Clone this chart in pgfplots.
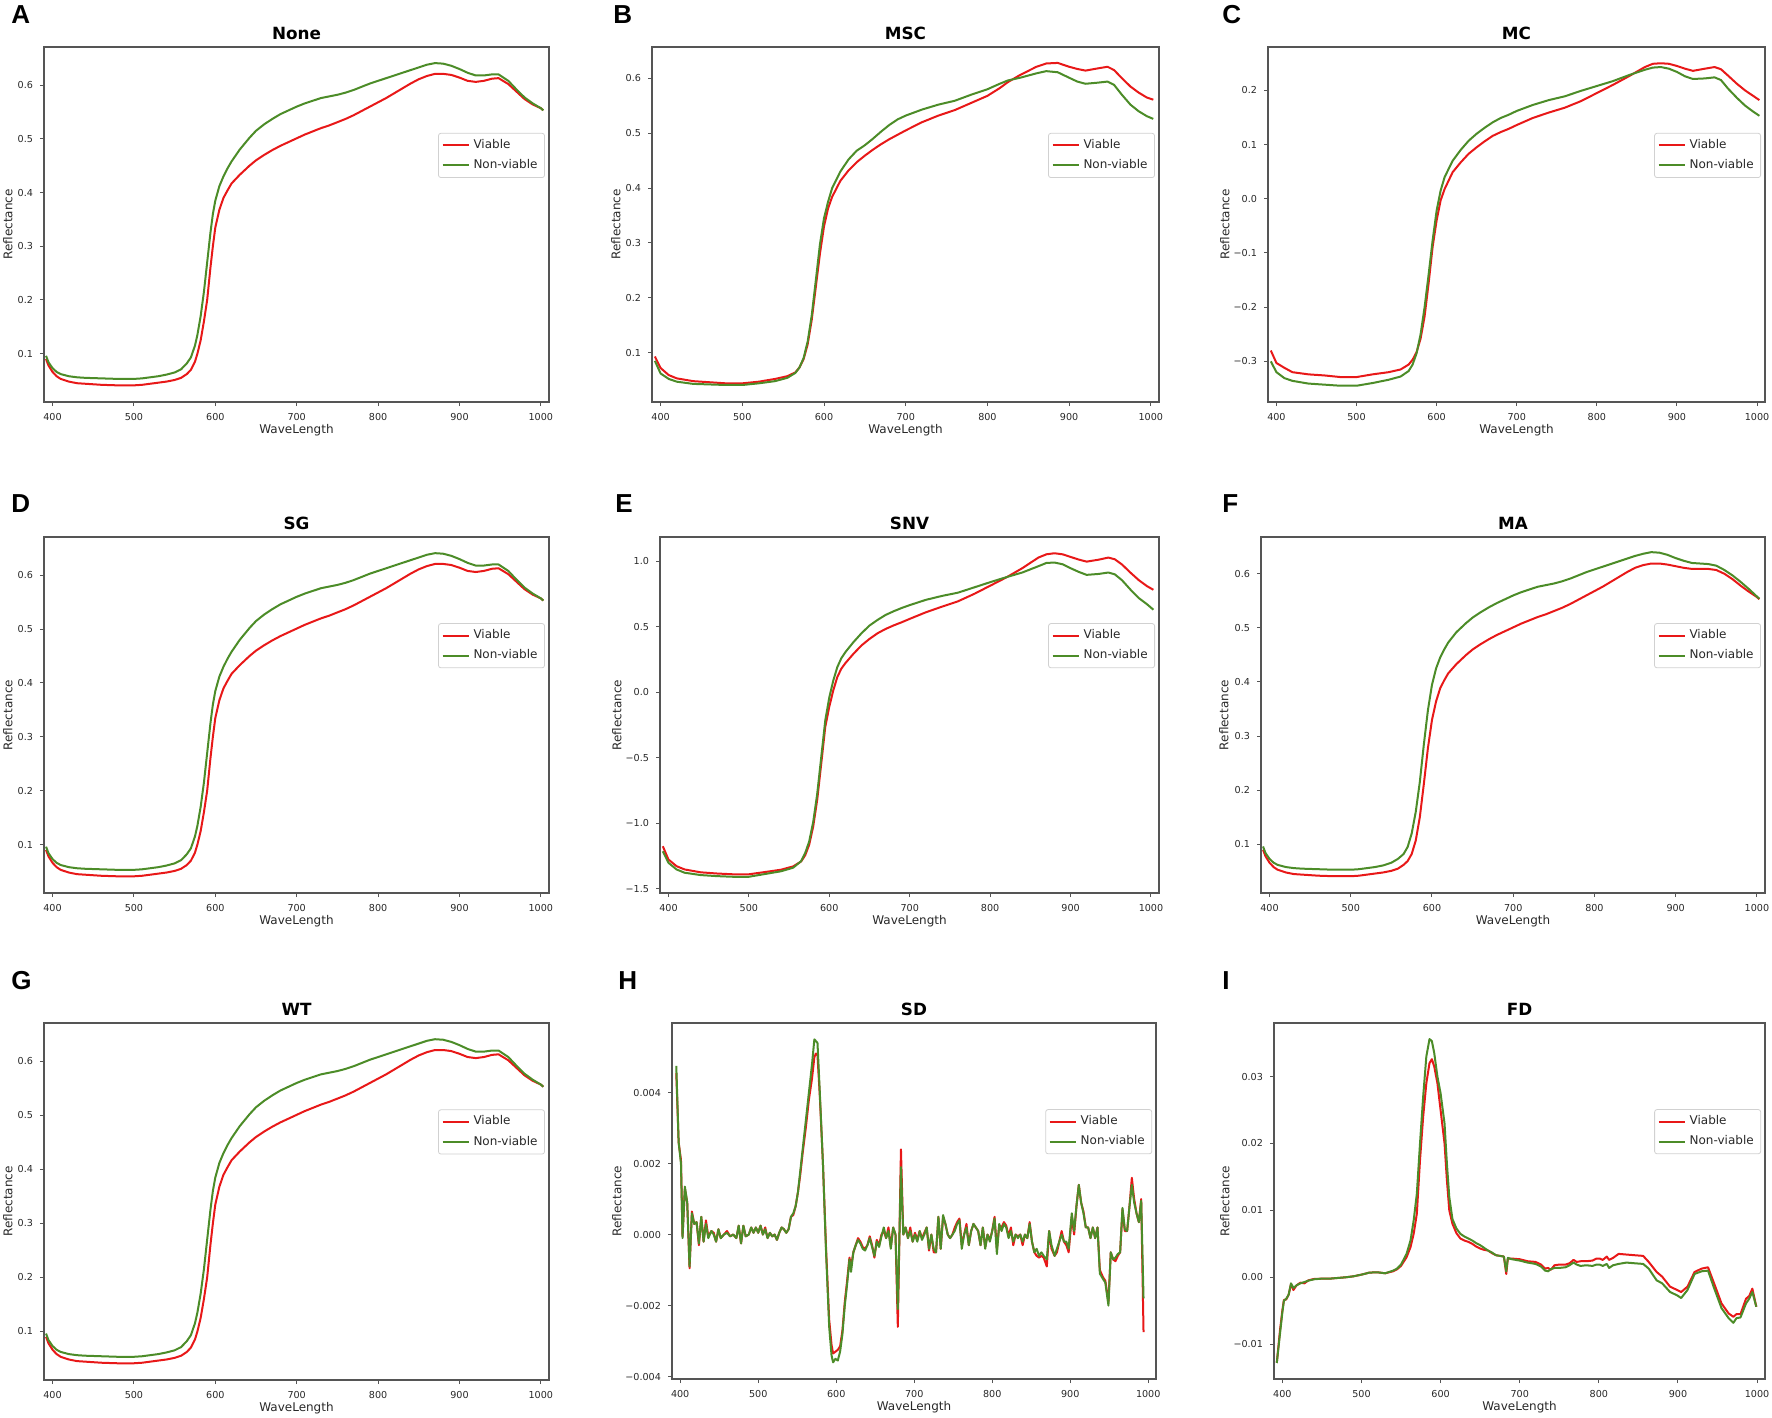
\documentclass[border=0pt]{standalone}
\usepackage{pgfplots}
\usepackage{pgfplotstable}
\pgfplotsset{compat=1.18}
\usepackage{fontspec}
\setmainfont{DejaVu Sans}
\newfontfamily\letterfont{Liberation Sans}
\definecolor{vred}{RGB}{232,24,24}
\definecolor{ngreen}{RGB}{76,140,40}
\definecolor{framecol}{RGB}{85,85,85}
\definecolor{txtcol}{RGB}{40,40,40}

\pgfplotstableread{
x v n
392 0.090 0.096
395 0.078 0.084
400 0.066 0.073
405 0.058 0.066
410 0.053 0.062
420 0.048 0.058
430 0.045 0.056
440 0.044 0.055
460 0.042 0.054
480 0.041 0.053
500 0.041 0.053
510 0.042 0.054
520 0.044 0.056
530 0.046 0.058
540 0.048 0.061
550 0.051 0.065
558 0.055 0.071
565 0.062 0.082
570 0.070 0.093
575 0.085 0.115
578 0.100 0.135
582 0.125 0.170
586 0.160 0.215
590 0.200 0.270
594 0.260 0.325
597 0.300 0.360
600 0.335 0.385
605 0.368 0.412
610 0.390 0.430
615 0.404 0.445
620 0.417 0.458
630 0.433 0.480
642 0.450 0.502
650 0.460 0.515
660 0.470 0.527
670 0.479 0.537
680 0.487 0.546
690 0.494 0.553
700 0.501 0.560
710 0.508 0.566
720 0.514 0.571
730 0.520 0.576
740 0.525 0.579
750 0.531 0.582
760 0.537 0.586
770 0.544 0.591
780 0.552 0.597
790 0.560 0.603
800 0.568 0.608
810 0.576 0.613
820 0.585 0.618
830 0.594 0.623
840 0.603 0.628
850 0.611 0.633
860 0.617 0.638
870 0.621 0.641
880 0.621 0.640
890 0.619 0.636
900 0.614 0.630
910 0.608 0.623
920 0.606 0.618
930 0.608 0.618
940 0.612 0.620
948 0.613 0.620
960 0.602 0.608
970 0.588 0.592
980 0.574 0.577
990 0.564 0.566
1000 0.557 0.557
1003 0.553 0.553
}\tabA

\pgfplotstableread{
x v n
392 0.090 0.096
395 0.078 0.084
400 0.066 0.073
405 0.058 0.066
410 0.053 0.062
420 0.048 0.058
430 0.045 0.056
440 0.044 0.055
460 0.042 0.054
480 0.041 0.053
500 0.041 0.053
510 0.042 0.054
520 0.044 0.056
530 0.046 0.058
540 0.048 0.061
550 0.051 0.066
558 0.055 0.073
565 0.062 0.082
570 0.069 0.095
575 0.082 0.120
580 0.107 0.160
585 0.150 0.215
590 0.212 0.285
595 0.278 0.348
600 0.330 0.395
605 0.364 0.425
610 0.388 0.445
615 0.403 0.460
620 0.416 0.473
630 0.433 0.492
642 0.450 0.509
650 0.460 0.519
660 0.470 0.529
670 0.479 0.538
680 0.487 0.546
690 0.494 0.553
700 0.501 0.560
710 0.508 0.566
720 0.514 0.571
730 0.520 0.576
740 0.525 0.579
750 0.531 0.582
760 0.537 0.586
770 0.544 0.591
780 0.552 0.597
790 0.560 0.603
800 0.568 0.608
810 0.576 0.613
820 0.585 0.618
830 0.594 0.623
840 0.603 0.628
850 0.611 0.633
860 0.616 0.637
870 0.619 0.640
880 0.619 0.639
890 0.617 0.635
900 0.614 0.629
910 0.611 0.624
920 0.609 0.620
930 0.609 0.619
940 0.609 0.618
950 0.607 0.615
960 0.600 0.607
970 0.590 0.597
980 0.578 0.585
990 0.567 0.572
1000 0.557 0.558
1003 0.553 0.554
}\tabF

\pgfplotstableread{
x v n
393 0.093 0.085
400 0.072 0.062
410 0.059 0.052
420 0.053 0.047
440 0.048 0.043
460 0.046 0.042
480 0.044 0.041
500 0.044 0.041
520 0.047 0.044
540 0.052 0.048
555 0.057 0.054
565 0.064 0.063
570 0.073 0.073
575 0.088 0.090
580 0.115 0.120
585 0.160 0.168
590 0.220 0.232
595 0.280 0.297
600 0.330 0.345
605 0.363 0.375
610 0.384 0.400
620 0.413 0.430
630 0.432 0.452
640 0.447 0.468
650 0.459 0.478
660 0.470 0.490
670 0.480 0.503
680 0.489 0.515
690 0.497 0.525
700 0.505 0.532
720 0.520 0.543
740 0.532 0.552
760 0.542 0.559
780 0.555 0.570
800 0.568 0.580
815 0.582 0.590
825 0.593 0.596
840 0.606 0.601
860 0.621 0.609
872 0.627 0.613
886 0.628 0.611
900 0.621 0.601
910 0.617 0.594
920 0.614 0.590
935 0.618 0.592
947 0.621 0.594
955 0.615 0.588
964 0.601 0.571
975 0.585 0.552
985 0.574 0.540
995 0.565 0.531
1003 0.561 0.526
}\tabB

\pgfplotstableread{
x v n
393 -0.280 -0.300
400 -0.303 -0.320
410 -0.312 -0.331
420 -0.320 -0.336
440 -0.324 -0.341
460 -0.326 -0.343
480 -0.329 -0.345
500 -0.329 -0.345
520 -0.324 -0.340
540 -0.320 -0.334
555 -0.315 -0.328
565 -0.306 -0.318
570 -0.297 -0.306
575 -0.283 -0.285
580 -0.258 -0.250
585 -0.217 -0.200
590 -0.156 -0.140
595 -0.089 -0.077
600 -0.040 -0.022
605 -0.003 0.015
610 0.018 0.040
620 0.049 0.070
630 0.067 0.090
640 0.083 0.107
650 0.095 0.120
660 0.106 0.131
670 0.116 0.141
680 0.123 0.149
690 0.129 0.155
700 0.136 0.162
720 0.149 0.173
740 0.159 0.182
760 0.168 0.189
780 0.180 0.199
800 0.195 0.208
820 0.210 0.217
840 0.226 0.228
860 0.243 0.238
870 0.249 0.242
880 0.250 0.243
890 0.249 0.240
900 0.245 0.234
910 0.240 0.226
920 0.236 0.221
935 0.240 0.222
947 0.243 0.224
955 0.239 0.219
964 0.227 0.203
975 0.212 0.186
985 0.200 0.172
995 0.190 0.161
1003 0.182 0.153
}\tabC

\pgfplotstableread{
x v n
393 -1.176 -1.214
400 -1.277 -1.302
410 -1.328 -1.353
420 -1.353 -1.378
440 -1.375 -1.396
460 -1.384 -1.404
480 -1.390 -1.409
500 -1.390 -1.409
520 -1.373 -1.388
540 -1.355 -1.367
555 -1.330 -1.340
565 -1.292 -1.290
570 -1.245 -1.228
575 -1.165 -1.140
580 -1.025 -0.990
585 -0.820 -0.775
590 -0.545 -0.495
595 -0.265 -0.215
600 -0.110 -0.040
605 0.015 0.090
610 0.116 0.192
615 0.180 0.260
620 0.222 0.306
630 0.293 0.382
640 0.357 0.450
650 0.407 0.509
660 0.450 0.552
670 0.483 0.590
680 0.510 0.618
690 0.534 0.643
700 0.560 0.665
720 0.610 0.705
740 0.653 0.735
760 0.694 0.760
780 0.750 0.800
800 0.813 0.840
820 0.876 0.878
840 0.947 0.914
860 1.028 0.962
870 1.053 0.987
880 1.061 0.990
890 1.053 0.977
900 1.033 0.947
910 1.013 0.919
920 0.997 0.896
935 1.012 0.903
947 1.028 0.914
955 1.015 0.900
964 0.975 0.855
975 0.910 0.780
985 0.855 0.718
995 0.810 0.672
1003 0.782 0.630
}\tabE

\pgfplotstableread{
x v n
395 0.00455 0.00475
398 0.00260 0.00260
401 0.00210 0.00200
403 -0.00005 -0.00010
406 0.00130 0.00135
409 0.00090 0.00090
412 -0.00095 -0.00090
415 0.00065 0.00060
418 0.00030 0.00030
421 0.00035 0.00035
424 -0.00030 -0.00025
427 0.00050 0.00050
430 -0.00020 -0.00020
433 0.00040 0.00030
436 -0.00005 -0.00010
440 0.00010 0.00010
443 0.00005 0.00000
446 -0.00020 -0.00020
449 0.00015 0.00015
452 -0.00010 -0.00010
456 0.00000 0.00000
460 0.00010 0.00005
464 -0.00005 -0.00005
468 0.00000 0.00000
472 -0.00010 -0.00010
475 0.00025 0.00025
478 -0.00025 -0.00025
481 0.00025 0.00025
484 -0.00005 -0.00005
488 0.00000 0.00000
491 0.00020 0.00020
494 0.00005 0.00005
497 0.00020 0.00020
500 0.00005 0.00005
503 0.00025 0.00025
506 0.00000 0.00000
509 0.00020 0.00015
512 -0.00010 -0.00010
515 0.00005 0.00005
518 -0.00005 -0.00005
521 0.00000 0.00000
524 -0.00015 -0.00015
527 0.00005 0.00005
530 0.00020 0.00020
533 0.00015 0.00015
536 0.00005 0.00005
539 0.00015 0.00015
542 0.00050 0.00050
545 0.00055 0.00060
548 0.00080 0.00080
551 0.00120 0.00120
554 0.00170 0.00180
557 0.00230 0.00240
561 0.00300 0.00320
565 0.00380 0.00400
569 0.00440 0.00480
572 0.00500 0.00550
574 0.00510 0.00545
576 0.00505 0.00540
579 0.00390 0.00400
583 0.00200 0.00200
587 -0.00040 -0.00050
591 -0.00240 -0.00260
594 -0.00310 -0.00340
596 -0.00335 -0.00360
599 -0.00330 -0.00350
602 -0.00325 -0.00355
605 -0.00315 -0.00330
608 -0.00270 -0.00280
611 -0.00190 -0.00200
614 -0.00130 -0.00140
617 -0.00065 -0.00070
619 -0.00090 -0.00105
622 -0.00050 -0.00050
625 -0.00030 -0.00030
628 -0.00010 -0.00015
631 -0.00020 -0.00025
634 -0.00035 -0.00040
637 -0.00040 -0.00045
640 -0.00030 -0.00030
643 -0.00005 -0.00010
646 -0.00030 -0.00035
649 -0.00065 -0.00060
652 -0.00015 -0.00020
655 -0.00030 -0.00035
658 0.00000 -0.00005
661 0.00010 0.00020
664 -0.00010 -0.00010
667 0.00020 0.00010
670 -0.00035 -0.00040
673 0.00020 0.00020
676 0.00000 0.00000
679 -0.00260 -0.00210
683 0.00240 0.00190
686 0.00000 0.00000
689 0.00020 0.00020
692 -0.00010 -0.00010
695 0.00020 0.00010
698 -0.00020 -0.00020
701 0.00005 0.00000
704 -0.00015 -0.00020
707 0.00010 0.00010
710 -0.00010 -0.00015
713 0.00005 0.00000
716 0.00020 0.00020
719 -0.00045 -0.00040
722 0.00000 0.00000
725 -0.00050 -0.00040
728 -0.00050 -0.00050
731 0.00050 0.00050
734 -0.00040 -0.00040
737 0.00050 0.00055
740 0.00030 0.00030
743 0.00000 0.00000
746 -0.00010 -0.00010
749 0.00000 0.00000
752 0.00020 0.00010
755 0.00035 0.00030
758 0.00045 0.00040
761 -0.00030 -0.00040
764 0.00000 0.00000
767 0.00030 0.00020
770 -0.00030 -0.00030
773 0.00010 0.00010
776 0.00030 0.00030
779 0.00020 0.00020
782 0.00010 0.00010
785 -0.00030 -0.00030
788 0.00020 0.00020
791 -0.00035 -0.00040
794 0.00000 0.00000
797 -0.00015 -0.00020
800 0.00010 0.00010
803 0.00050 0.00045
806 -0.00040 -0.00055
809 0.00025 0.00030
812 0.00020 0.00010
815 0.00035 0.00030
818 0.00025 0.00020
821 -0.00005 -0.00010
824 0.00020 0.00010
827 -0.00030 -0.00020
830 0.00000 0.00000
833 -0.00005 -0.00010
836 0.00000 0.00000
839 -0.00030 -0.00020
842 0.00000 0.00000
845 -0.00010 -0.00010
848 0.00035 0.00030
851 -0.00020 -0.00020
854 -0.00050 -0.00050
857 -0.00060 -0.00040
860 -0.00065 -0.00060
863 -0.00060 -0.00050
866 -0.00065 -0.00060
870 -0.00090 -0.00070
873 0.00010 0.00010
876 -0.00040 -0.00030
880 -0.00060 -0.00060
883 -0.00050 -0.00040
886 -0.00020 -0.00020
889 0.00010 0.00000
892 -0.00020 -0.00020
895 -0.00030 -0.00020
898 -0.00050 -0.00040
902 0.00050 0.00060
905 0.00000 0.00010
908 0.00080 0.00080
911 0.00140 0.00140
914 0.00090 0.00090
917 0.00065 0.00060
920 0.00020 0.00020
923 0.00020 0.00020
926 -0.00010 -0.00010
929 0.00020 0.00020
932 -0.00010 -0.00010
935 0.00020 0.00020
938 -0.00100 -0.00110
942 -0.00120 -0.00125
945 -0.00130 -0.00135
949 -0.00190 -0.00200
952 -0.00050 -0.00050
955 -0.00070 -0.00070
958 -0.00075 -0.00065
961 -0.00060 -0.00055
964 -0.00050 -0.00050
967 0.00070 0.00075
970 0.00010 0.00015
973 0.00010 0.00010
976 0.00080 0.00080
979 0.00160 0.00140
982 0.00100 0.00090
985 0.00060 0.00060
988 0.00035 0.00035
991 0.00100 0.00095
994 -0.00275 -0.00180
}\tabH

\pgfplotstableread{
x v n
393 -0.0128 -0.0128
397 -0.0080 -0.0085
400 -0.0050 -0.0053
402 -0.0034 -0.0035
405 -0.0033 -0.0032
408 -0.0026 -0.0026
411 -0.0010 -0.0009
414 -0.0019 -0.0016
418 -0.0012 -0.0012
423 -0.0008 -0.0009
428 -0.0009 -0.0007
433 -0.00045 -0.0005
440 -0.00025 -0.0003
450 -0.0002 -0.0002
460 -0.0002 -0.0002
470 -0.0001 -0.0001
480 0.0000 0.0000
490 0.00015 0.00015
500 0.0004 0.0004
510 0.0007 0.0007
520 0.00075 0.00075
530 0.0006 0.0006
540 0.0009 0.0010
545 0.0012 0.0013
550 0.0017 0.0019
557 0.0030 0.0035
562 0.0045 0.0055
566 0.0065 0.0085
570 0.0095 0.0125
574 0.0175 0.0200
578 0.0240 0.0270
582 0.0290 0.0330
586 0.0320 0.0356
589 0.0326 0.0353
592 0.0315 0.0335
596 0.0290 0.0300
600 0.0250 0.0275
605 0.0200 0.0230
608 0.0145 0.0170
611 0.0100 0.0120
615 0.0080 0.0087
620 0.0066 0.0073
625 0.0058 0.0065
630 0.0055 0.0061
635 0.0053 0.0058
640 0.0050 0.0055
645 0.0046 0.0051
650 0.0043 0.0048
655 0.0041 0.0044
660 0.0040 0.0040
665 0.0036 0.0037
670 0.0033 0.0033
675 0.0032 0.0032
680 0.0031 0.0031
683 0.0005 0.0009
685 0.0028 0.0029
690 0.0028 0.0027
700 0.0027 0.0025
710 0.0024 0.0022
720 0.0023 0.0020
727 0.0019 0.0016
732 0.0013 0.0010
736 0.0014 0.0009
739 0.0011 0.0012
744 0.0018 0.0014
750 0.0019 0.0014
758 0.0019 0.0015
763 0.0021 0.0018
768 0.0026 0.0022
772 0.0023 0.0019
777 0.0024 0.0017
784 0.0024 0.0018
792 0.0025 0.0017
797 0.0028 0.0019
801 0.0028 0.0019
805 0.0026 0.0017
810 0.0031 0.0020
813 0.0026 0.0014
818 0.0029 0.0018
825 0.0035 0.0020
835 0.0034 0.0022
845 0.0033 0.0021
856 0.0032 0.0020
863 0.0023 0.0013
873 0.0008 -0.00045
880 0.0001 -0.0009
890 -0.0014 -0.0022
899 -0.0019 -0.0027
904 -0.0022 -0.0031
908 -0.0018 -0.0025
912 -0.0014 -0.0019
921 0.0008 0.0005
930 0.0013 0.0009
938 0.0015 0.0010
945 -0.0007 -0.0014
955 -0.0039 -0.0046
964 -0.0054 -0.0061
970 -0.0059 -0.0068
974 -0.0055 -0.0061
979 -0.0055 -0.0060
986 -0.0032 -0.0039
990 -0.0028 -0.0032
994 -0.0017 -0.0022
999 -0.0044 -0.0044
}\tabI

\pgfplotsset{
  panel/.style={
    scale only axis,
    anchor=south west,
    xmin=389.5, xmax=1010,
    xtick={400,500,600,700,800,900,1000},
    xticklabels={400,500,600,700,800,900,1000},
    tick align=outside, tick pos=left,
    major tick length=2pt,
    axis line style={draw=framecol, line width=0.8pt},
    every tick/.style={draw=framecol, line width=0.5pt},
    ticklabel style={font=\fontsize{4.8}{5}\selectfont, text=txtcol},
    xlabel={WaveLength}, ylabel={Reflectance},
    every axis x label/.style={at={(rel axis cs:0.5,0)}, anchor=center, yshift=-14pt, font=\fontsize{6}{7}\selectfont, text=txtcol},
    every axis y label/.style={at={(rel axis cs:0,0.5)}, anchor=center, rotate=90, font=\fontsize{6}{7}\selectfont, text=txtcol},
    every axis title/.style={at={(0.5,1)}, anchor=base, yshift=3.8pt, font=\fontsize{8.4}{9}\selectfont\bfseries},
    legend style={at={(0.992,0.758)}, anchor=north east, draw=black!18, fill=white, rounded corners=1.2pt, line width=0.4pt, font=\fontsize{6}{6.5}\selectfont, inner xsep=1.5pt, inner ysep=1pt, cells={anchor=west}, text=txtcol},
    legend image code/.code={\draw[#1] (0pt,0pt) -- (13pt,0pt);},
    legend cell align=left,
  },
  vline/.style={color=vred, line width=1pt, line join=round},
  nline/.style={color=ngreen, line width=1pt, line join=round},
}

\begin{document}
\begin{tikzpicture}
\useasboundingbox (0,0) rectangle (886pt,-709pt);

% A
\begin{axis}[panel, at={(22pt,-201pt)}, width=252.5pt, height=177.5pt,
  title={None}, ymin=0.010, ymax=0.671,
  ytick={0.1,0.2,0.3,0.4,0.5,0.6}, yticklabels={0.1,0.2,0.3,0.4,0.5,0.6},
  ylabel style={yshift=18pt}]
\addplot[vline] table[x=x,y=v] {\tabA}; \addlegendentry{Viable}
\addplot[nline] table[x=x,y=n] {\tabA}; \addlegendentry{Non-viable}
\end{axis}

% B
\begin{axis}[panel, at={(326pt,-201pt)}, width=253.5pt, height=177.5pt,
  title={MSC}, ymin=0.010, ymax=0.657,
  ytick={0.1,0.2,0.3,0.4,0.5,0.6}, yticklabels={0.1,0.2,0.3,0.4,0.5,0.6},
  ylabel style={yshift=18pt}]
\addplot[vline] table[x=x,y=v] {\tabB}; \addlegendentry{Viable}
\addplot[nline] table[x=x,y=n] {\tabB}; \addlegendentry{Non-viable}
\end{axis}

% C
\begin{axis}[panel, at={(634pt,-201pt)}, width=248.5pt, height=177.5pt,
  title={MC}, ymin=-0.375, ymax=0.280,
  ytick={-0.3,-0.2,-0.1,0,0.1,0.2}, yticklabels={−0.3,−0.2,−0.1,0.0,0.1,0.2},
  ylabel style={yshift=21.5pt}]
\addplot[vline] table[x=x,y=v] {\tabC}; \addlegendentry{Viable}
\addplot[nline] table[x=x,y=n] {\tabC}; \addlegendentry{Non-viable}
\end{axis}

% D
\begin{axis}[panel, at={(22pt,-446.5pt)}, width=252.5pt, height=178pt,
  title={SG}, ymin=0.010, ymax=0.671,
  ytick={0.1,0.2,0.3,0.4,0.5,0.6}, yticklabels={0.1,0.2,0.3,0.4,0.5,0.6},
  ylabel style={yshift=18pt}]
\addplot[vline] table[x=x,y=v] {\tabA}; \addlegendentry{Viable}
\addplot[nline] table[x=x,y=n] {\tabA}; \addlegendentry{Non-viable}
\end{axis}

% E
\begin{axis}[panel, at={(330pt,-446.5pt)}, width=249.5pt, height=178pt,
  title={SNV}, ymin=-1.533, ymax=1.185,
  ytick={-1.5,-1,-0.5,0,0.5,1}, yticklabels={−1.5,−1.0,−0.5,0.0,0.5,1.0},
  ylabel style={yshift=21.5pt}]
\addplot[vline] table[x=x,y=v] {\tabE}; \addlegendentry{Viable}
\addplot[nline] table[x=x,y=n] {\tabE}; \addlegendentry{Non-viable}
\end{axis}

% F
\begin{axis}[panel, at={(630.5pt,-446.5pt)}, width=252pt, height=178pt,
  title={MA}, ymin=0.010, ymax=0.668,
  ytick={0.1,0.2,0.3,0.4,0.5,0.6}, yticklabels={0.1,0.2,0.3,0.4,0.5,0.6},
  ylabel style={yshift=18.5pt}]
\addplot[vline] table[x=x,y=v] {\tabF}; \addlegendentry{Viable}
\addplot[nline] table[x=x,y=n] {\tabF}; \addlegendentry{Non-viable}
\end{axis}

% G
\begin{axis}[panel, at={(22pt,-690pt)}, width=252.5pt, height=178.5pt,
  title={WT}, ymin=0.010, ymax=0.671,
  ytick={0.1,0.2,0.3,0.4,0.5,0.6}, yticklabels={0.1,0.2,0.3,0.4,0.5,0.6},
  ylabel style={yshift=18pt}]
\addplot[vline] table[x=x,y=v] {\tabA}; \addlegendentry{Viable}
\addplot[nline] table[x=x,y=n] {\tabA}; \addlegendentry{Non-viable}
\end{axis}

% H
\begin{axis}[panel, at={(336pt,-689.5pt)}, width=242pt, height=178pt,
  title={SD}, ymin=-0.00407, ymax=0.00596,
  ytick={-0.004,-0.002,0,0.002,0.004}, yticklabels={−0.004,−0.002,0.000,0.002,0.004},
  scaled y ticks=false,
  ylabel style={yshift=27.5pt}]
\addplot[vline] table[x=x,y=v] {\tabH}; \addlegendentry{Viable}
\addplot[nline] table[x=x,y=n] {\tabH}; \addlegendentry{Non-viable}
\end{axis}

% I
\begin{axis}[panel, at={(637pt,-689.5pt)}, width=245.5pt, height=178pt,
  title={FD}, ymin=-0.0152, ymax=0.038,
  ytick={-0.01,0,0.01,0.02,0.03}, yticklabels={−0.01,0.00,0.01,0.02,0.03},
  scaled y ticks=false,
  ylabel style={yshift=24.5pt}]
\addplot[vline] table[x=x,y=v] {\tabI}; \addlegendentry{Viable}
\addplot[nline] table[x=x,y=n] {\tabI}; \addlegendentry{Non-viable}
\end{axis}

% panel letters
\begin{scope}[every node/.style={anchor=base west, inner sep=0pt, font=\letterfont\bfseries\fontsize{13}{13}\selectfont}]
\node at (5.5pt,-12pt) {A};
\node at (306.5pt,-12pt) {B};
\node at (611pt,-12pt) {C};
\node at (5.5pt,-256pt) {D};
\node at (307.5pt,-256pt) {E};
\node at (611pt,-256pt) {F};
\node at (5.5pt,-494.5pt) {G};
\node at (309pt,-494.5pt) {H};
\node at (611pt,-494.5pt) {I};
\end{scope}
\end{tikzpicture}
\end{document}
